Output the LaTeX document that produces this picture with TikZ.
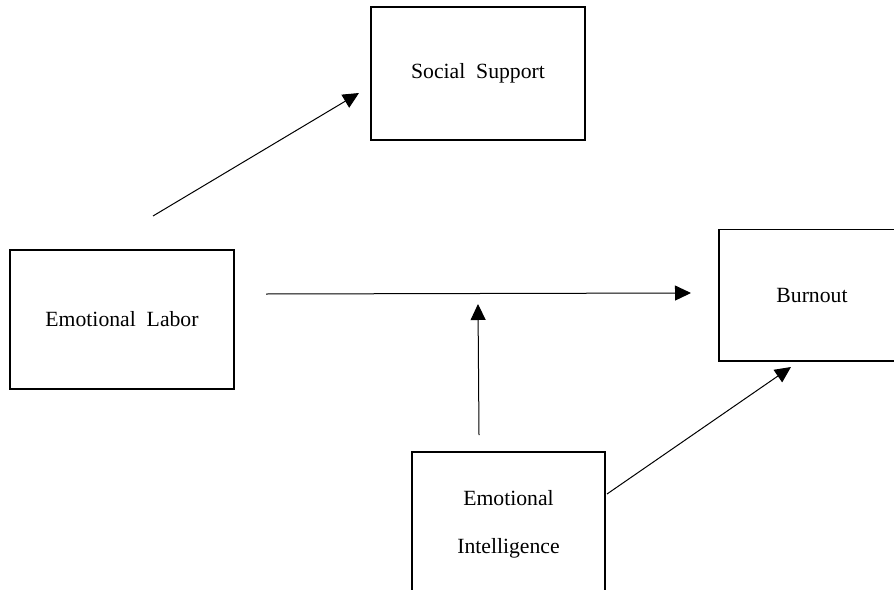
\documentclass[tikz,border=0pt]{standalone}
\usepackage{fontspec}
\setmainfont{Liberation Serif}
\usetikzlibrary{arrows.meta}
\begin{document}
\begin{tikzpicture}[x=1pt,y=-1pt,
  box/.style={draw, line width=1.3pt, rectangle, inner sep=0pt, align=center,
    font=\fontsize{21.7}{48}\selectfont},
  link/.style={line width=1pt, -{Triangle[length=16pt,width=15pt]}}]
\useasboundingbox (0,0) rectangle (894,589);
\clip (0,0) rectangle (894,589);
\fill[white] (0,0) rectangle (894,589);
\node[box, minimum width=214pt, minimum height=133pt] (ss) at (478,73.5) {Social\ \ Support};
\node[box, minimum width=224pt, minimum height=139pt] (el) at (122,319.5) {Emotional\ \ Labor};
\node[box, minimum width=186pt, minimum height=131.5pt] (bo) at (812,295.25) {Burnout};
\node[box, minimum width=193pt, minimum height=144pt] (ei) at (508.5,524) {Emotional\\Intelligence};
\coordinate (a1s) at (153,216);
\coordinate (a1e) at (359,93);
\coordinate (a2s) at (266,294);
\coordinate (a2e) at (691,293);
\coordinate (a3s) at (479,435);
\coordinate (a3e) at (478,304);
\coordinate (a4s) at (607,494);
\coordinate (a4e) at (791,367);
\draw[link] (a1s) -- (a1e);
\draw[link] (a2s) -- (a2e);
\draw[link] (a3s) -- (a3e);
\draw[link] (a4s) -- (a4e);
\end{tikzpicture}
\end{document}
